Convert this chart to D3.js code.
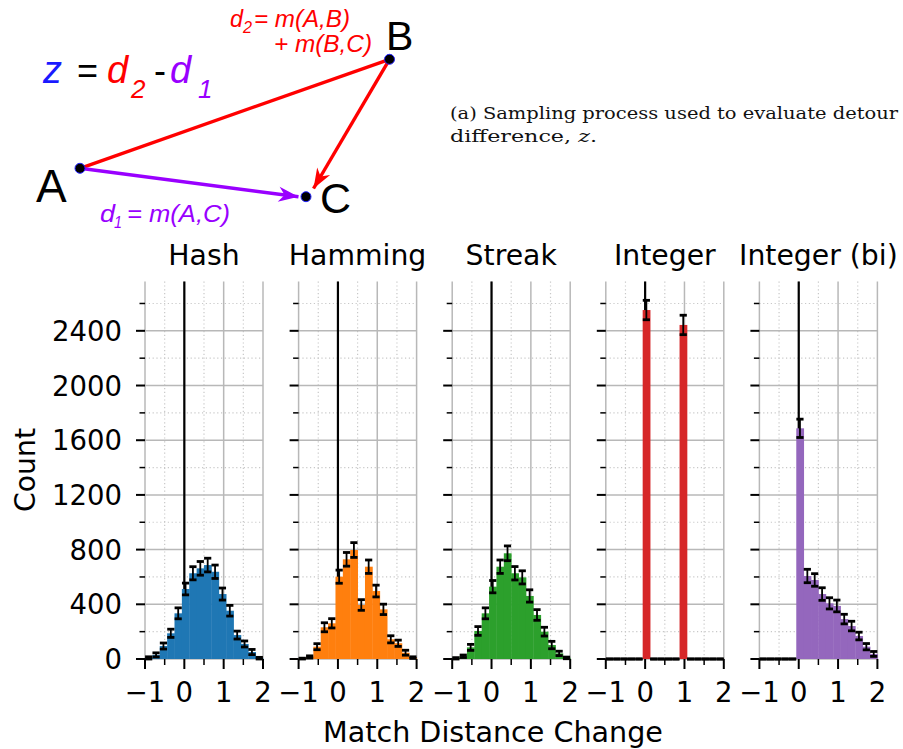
<!DOCTYPE html>
<html>
<head>
<meta charset="utf-8">
<script src="https://cdnjs.cloudflare.com/ajax/libs/d3/7.8.5/d3.min.js"></script>
<style>
  body { margin: 0; background: #fff; }
  svg { display: block; }
</style>
</head>
<body>
<figure id="chart" style="margin:0"></figure>
<script>
// histogram bins: 16 bins between -1 and 2
const binEdges = [-1, -0.8125, -0.625, -0.4375, -0.25, -0.0625, 0.125, 0.3125, 0.5,
  0.6875, 0.875, 1.0625, 1.25, 1.4375, 1.625, 1.8125, 2];

const methods = ["Hash", "Hamming", "Streak", "Integer", "Integer (bi)"];
const colors = ["#1f77b4", "#ff7f0e", "#2ca02c", "#d62728", "#9467bd"];

const hashCounts = [8, 30, 95, 188, 334, 512, 627, 663, 687, 638, 475, 353, 175, 110, 51, 6];
const hashErr = [8, 15, 22, 30, 40, 43, 48, 50, 50, 49, 44, 39, 29, 22, 19, 6];

const hammingCounts = [3, 15, 90, 232, 261, 602, 729, 797, 395, 675, 497, 363, 144, 115, 46, 10];
const hammingErr = [3, 8, 22, 33, 34, 48, 50, 54, 39, 49, 43, 38, 26, 23, 18, 6];

const streakCounts = [5, 20, 85, 205, 334, 529, 675, 773, 627, 597, 461, 322, 200, 102, 41, 8];
const streakErr = [5, 9, 22, 32, 40, 45, 49, 54, 49, 48, 45, 39, 32, 27, 16, 6];

const integerCounts = [0, 0, 0, 0, 0, 2552, 0, 0, 0, 0, 2443, 0, 0, 0, 0, 0];
const integerErr = [0, 0, 0, 0, 0, 71, 0, 0, 0, 0, 71, 0, 0, 0, 0, 0];

const integerBiCounts = [0, 0, 0, 0, 0, 1687, 607, 578, 475, 407, 388, 292, 241, 168, 90, 37];
const integerBiErr = [0, 0, 0, 0, 0, 67, 49, 46, 46, 41, 43, 35, 35, 28, 23, 18];

const allCounts = [hashCounts, hammingCounts, streakCounts, integerCounts, integerBiCounts];
const allErr = [hashErr, hammingErr, streakErr, integerErr, integerBiErr];

const xTicks = [-1, 0, 1, 2];
const xMinorTicks = [-0.5, 0.5, 1.5];
const yTicks = [0, 400, 800, 1200, 1600, 2000, 2400];
const yMinorTicks = [200, 600, 1000, 1400, 1800, 2200, 2600];

const W = 903, H = 749;
const panelLeft = 145, panelStep = 153.6, panelWidth = 118;
const plotTop = 281.6, plotBottom = 659;

const svg = d3.select("figure#chart")
  .append("svg")
  .attr("width", W)
  .attr("height", H);

const FONT = "DejaVu Sans, sans-serif";

const y = d3.scaleLinear()
  .domain([0, 2760])
  .range([plotBottom, plotTop]);

methods.forEach((name, i) => {
  const x = d3.scaleLinear()
    .domain([-1, 2])
    .range([panelLeft + i * panelStep, panelLeft + i * panelStep + panelWidth]);
  const g = svg.append("g");
  const counts = allCounts[i];
  const errs = allErr[i];
  const bins = counts.map((c, k) => ({ x0: binEdges[k], x1: binEdges[k + 1], count: c, err: errs[k] }));

  // minor grid (dotted)
  g.selectAll(".gxm").data(xMinorTicks).enter().append("line")
    .attr("x1", d => x(d)).attr("x2", d => x(d))
    .attr("y1", plotTop).attr("y2", plotBottom)
    .attr("stroke", "#c8c8c8").attr("stroke-width", 1.2).attr("stroke-dasharray", "1.2,2.6");
  g.selectAll(".gym").data(yMinorTicks).enter().append("line")
    .attr("x1", x(-1)).attr("x2", x(2))
    .attr("y1", d => y(d)).attr("y2", d => y(d))
    .attr("stroke", "#c8c8c8").attr("stroke-width", 1.2).attr("stroke-dasharray", "1.2,2.6");

  // major grid
  g.selectAll(".gx").data(xTicks).enter().append("line")
    .attr("x1", d => x(d)).attr("x2", d => x(d))
    .attr("y1", plotTop).attr("y2", plotBottom)
    .attr("stroke", "#b8b8b8").attr("stroke-width", 1.5);
  g.selectAll(".gy").data(yTicks).enter().append("line")
    .attr("x1", x(-1)).attr("x2", x(2))
    .attr("y1", d => y(d)).attr("y2", d => y(d))
    .attr("stroke", "#b8b8b8").attr("stroke-width", 1.5);

  // zero line
  g.append("line")
    .attr("x1", x(0)).attr("x2", x(0))
    .attr("y1", plotTop).attr("y2", plotBottom)
    .attr("stroke", "#000").attr("stroke-width", 2.2);

  // bars
  g.selectAll(".bar").data(bins).enter().append("rect")
    .attr("x", d => x(d.x0))
    .attr("y", d => y(d.count))
    .attr("width", d => x(d.x1) - x(d.x0) + 0.4)
    .attr("height", d => plotBottom - y(d.count))
    .attr("fill", colors[i]);

  // error bars
  const eb = g.selectAll(".err").data(bins).enter().append("g");
  eb.append("line")
    .attr("x1", d => x((d.x0 + d.x1) / 2)).attr("x2", d => x((d.x0 + d.x1) / 2))
    .attr("y1", d => y(d.count - d.err)).attr("y2", d => y(d.count + d.err))
    .attr("stroke", "#000").attr("stroke-width", 1.8);
  [-1, 1].forEach(s => {
    eb.append("line")
      .attr("x1", d => x((d.x0 + d.x1) / 2) - 3.6).attr("x2", d => x((d.x0 + d.x1) / 2) + 3.6)
      .attr("y1", d => y(Math.max(0, d.count + s * d.err))).attr("y2", d => y(Math.max(0, d.count + s * d.err)))
      .attr("stroke", "#000").attr("stroke-width", 2.8);
  });

  // x axis ticks
  g.selectAll(".tx").data(xTicks).enter().append("line")
    .attr("x1", d => x(d)).attr("x2", d => x(d))
    .attr("y1", plotBottom).attr("y2", plotBottom + 10)
    .attr("stroke", "#000").attr("stroke-width", 2);
  g.selectAll(".txm").data(xMinorTicks).enter().append("line")
    .attr("x1", d => x(d)).attr("x2", d => x(d))
    .attr("y1", plotBottom).attr("y2", plotBottom + 6)
    .attr("stroke", "#000").attr("stroke-width", 1.5);
  g.selectAll(".xl").data(xTicks).enter().append("text")
    .attr("x", d => x(d))
    .attr("y", 702)
    .attr("text-anchor", "middle")
    .attr("font-family", FONT).attr("font-size", 27.5)
    .text(d => d < 0 ? "\u2212" + Math.abs(d) : d);

  // y axis ticks
  g.selectAll(".ty").data(yTicks).enter().append("line")
    .attr("x1", x(-1) - 9).attr("x2", x(-1))
    .attr("y1", d => y(d)).attr("y2", d => y(d))
    .attr("stroke", "#000").attr("stroke-width", 2);
  g.selectAll(".tym").data(yMinorTicks).enter().append("line")
    .attr("x1", x(-1) - 5.5).attr("x2", x(-1))
    .attr("y1", d => y(d)).attr("y2", d => y(d))
    .attr("stroke", "#000").attr("stroke-width", 1.5);
  if (i === 0) {
    g.selectAll(".yl").data(yTicks).enter().append("text")
      .attr("x", x(-1) - 23)
      .attr("y", d => y(d) + 10)
      .attr("text-anchor", "end")
      .attr("font-family", FONT).attr("font-size", 27.5)
      .text(d => d);
  }

  // panel title
  g.append("text")
    .attr("x", x(0.5))
    .attr("y", 265)
    .attr("text-anchor", "middle")
    .attr("font-family", FONT).attr("font-size", 28.3)
    .text(name);
});

// axis labels
svg.append("text")
  .attr("transform", "translate(35,470) rotate(-90)")
  .attr("text-anchor", "middle")
  .attr("font-family", FONT).attr("font-size", 28.3)
  .text("Count");
svg.append("text")
  .attr("x", 493).attr("y", 742)
  .attr("text-anchor", "middle")
  .attr("font-family", FONT).attr("font-size", 28.6)
  .text("Match Distance Change");

// sampling diagram
const nodes = { A: [80, 168.3], B: [389.5, 59.3], C: [306, 196.7] };
const defs = svg.append("defs");
[["red", "#ff0000"], ["purple", "#9900ff"]].forEach(([id, c]) => {
  defs.append("marker")
    .attr("id", "head-" + id)
    .attr("viewBox", "-22 -9 24 18")
    .attr("refX", 0).attr("refY", 0)
    .attr("markerWidth", 24).attr("markerHeight", 18)
    .attr("markerUnits", "userSpaceOnUse")
    .attr("orient", "auto")
    .append("path")
    .attr("d", "M0,0 L-20,-7.5 L-14,0 L-20,7.5 Z")
    .attr("fill", c);
});
const diag = svg.append("g");
diag.append("line")
  .attr("x1", nodes.A[0]).attr("y1", nodes.A[1])
  .attr("x2", nodes.B[0]).attr("y2", nodes.B[1])
  .attr("stroke", "#ff0000").attr("stroke-width", 3.4);
diag.append("line")
  .attr("x1", nodes.B[0]).attr("y1", nodes.B[1])
  .attr("x2", 313.5).attr("y2", 188.5)
  .attr("stroke", "#ff0000").attr("stroke-width", 3.4)
  .attr("marker-end", "url(#head-red)");
diag.append("line")
  .attr("x1", nodes.A[0]).attr("y1", nodes.A[1])
  .attr("x2", 298.5).attr("y2", 196.8)
  .attr("stroke", "#9900ff").attr("stroke-width", 3.4)
  .attr("marker-end", "url(#head-purple)");
Object.values(nodes).forEach(p => {
  diag.append("circle")
    .attr("cx", p[0]).attr("cy", p[1]).attr("r", 5)
    .attr("fill", "#000").attr("stroke", "#2222ff").attr("stroke-width", 1);
});

const DF = "Liberation Sans, Arial, sans-serif";
function label(x, yy, txt, size, color, italic, len) {
  const t = diag.append("text")
    .attr("x", x).attr("y", yy)
    .attr("font-family", DF).attr("font-size", size)
    .attr("fill", color)
    .attr("font-style", italic ? "italic" : "normal")
    .text(txt);
  if (len) t.attr("textLength", len).attr("lengthAdjust", "spacingAndGlyphs");
  return t;
}
label(36, 202, "A", 46, "#000");
label(386, 49.5, "B", 41, "#000");
label(320, 213, "C", 43, "#000");

// z = d2 - d1
label(43, 83, "z", 38, "#1a1aff", true);
label(77, 83, "=", 36, "#000", false);
label(107, 83, "d", 38, "#ff0000", true);
label(131, 98, "2", 26, "#ff0000", true);
label(154, 83, "-", 36, "#000", false);
label(170, 83, "d", 38, "#9900ff", true);
label(198, 98, "1", 26, "#9900ff", true);

// d2 = m(A,B) + m(B,C)
label(230, 26.7, "d", 24, "#ff0000", true, 13);
label(243, 33, "2", 16, "#ff0000", true, 9);
label(254, 26.7, "= m(A,B)", 24, "#ff0000", true, 96);
label(274, 52.3, "+ m(B,C)", 24, "#ff0000", true, 98);

// d1 = m(A,C)
label(100, 221.7, "d", 24, "#9900ff", true, 15);
label(114, 228, "1", 16, "#9900ff", true, 8);
label(127, 221.7, "= m(A,C)", 24, "#9900ff", true, 103);

// caption
const cap = svg.append("g")
  .attr("font-family", "DejaVu Serif, Liberation Serif, serif")
  .attr("font-size", 17.5)
  .attr("fill", "#111");
cap.append("text").attr("x", 450).attr("y", 119)
  .attr("textLength", 448).attr("lengthAdjust", "spacingAndGlyphs")
  .text("(a) Sampling process used to evaluate detour");
const l2 = cap.append("text").attr("x", 450).attr("y", 142)
  .attr("textLength", 147).attr("lengthAdjust", "spacingAndGlyphs");
l2.append("tspan").text("difference, ");
l2.append("tspan").attr("font-style", "italic").text("z");
l2.append("tspan").text(".");
</script>
</body>
</html>
